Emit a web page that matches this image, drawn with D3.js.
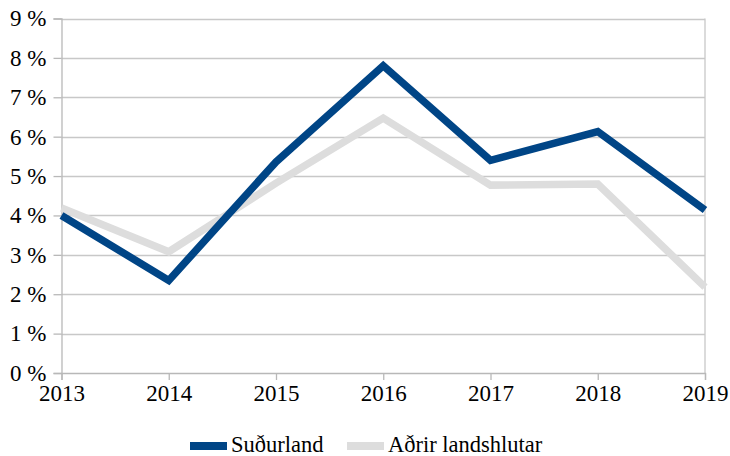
<!DOCTYPE html>
<html>
<head>
<meta charset="utf-8">
<script src="https://cdn.jsdelivr.net/npm/d3@7"></script>
<style>
  body { margin: 0; background: #fff; }
  svg text { font-family: "Liberation Serif", Tinos, "Times New Roman", "DejaVu Serif", serif; fill: #000; }
</style>
</head>
<body>
<div id="chart"></div>
<script>
// Data
const years = [2013, 2014, 2015, 2016, 2017, 2018, 2019];
const sudurland = [4.0, 2.35, 5.36, 7.8, 5.4, 6.13, 4.14];
const adrir = [4.19, 3.08, 4.82, 6.47, 4.77, 4.8, 2.18];
const yTicks = [0, 1, 2, 3, 4, 5, 6, 7, 8, 9];
const seriesNames = ["Suðurland", "Aðrir landshlutar"];
const seriesColors = ["#004586", "#dddddd"];

const serif = "'Liberation Serif', Tinos, 'Times New Roman', 'DejaVu Serif', serif";
const width = 730, height = 456;
const svg = d3.select("#chart").append("svg")
    .attr("width", width)
    .attr("height", height)
    .attr("font-family", serif);

// Scales
const xScale = d3.scaleLinear().domain([2013, 2019]).range([61.5, 705]);
const yScale = d3.scaleLinear().domain([0, 9]).range([373, 18.5]);

// Gridlines
svg.append("g")
    .selectAll("line")
    .data(yTicks.filter(d => d > 0))
    .join("line")
    .attr("x1", xScale(2013))
    .attr("x2", xScale(2019))
    .attr("y1", d => Math.round(yScale(d)) + 0.5)
    .attr("y2", d => Math.round(yScale(d)) + 0.5)
    .attr("stroke", "#c8c8c8")
    .attr("stroke-width", 1.3);

// Right border
svg.append("line")
    .attr("x1", xScale(2019)).attr("x2", xScale(2019))
    .attr("y1", yScale(9)).attr("y2", yScale(0))
    .attr("stroke", "#c8c8c8")
    .attr("stroke-width", 1.3);

// Y axis
const yAxis = svg.append("g")
    .attr("transform", `translate(${xScale(2013)},0)`)
    .call(d3.axisLeft(yScale).tickValues(yTicks).tickFormat(d => d + " %").tickSize(8).tickPadding(7));

// X axis
const xAxis = svg.append("g")
    .attr("transform", `translate(0,${yScale(0)})`)
    .call(d3.axisBottom(xScale).tickValues(years).tickFormat(d3.format("d")).tickSize(7).tickPadding(4));

[yAxis, xAxis].forEach(ax => {
    ax.attr("font-family", serif).attr("font-size", 23);
    ax.select(".domain").attr("stroke", "#b8b8b8").attr("stroke-width", 1.3);
    ax.selectAll(".tick line").attr("stroke", "#b8b8b8").attr("stroke-width", 1.3);
    ax.selectAll(".tick text")
        .style("font-family", serif)
        .style("font-size", "23px")
        .attr("fill", "#000");
});
xAxis.selectAll(".tick text").attr("dy", "0.72em");

// Lines
const line = d3.line()
    .x((d, i) => xScale(years[i]))
    .y(d => yScale(d));

[adrir, sudurland].forEach((series, k) => {
    svg.append("path")
        .datum(series)
        .attr("fill", "none")
        .attr("stroke", k === 0 ? seriesColors[1] : seriesColors[0])
        .attr("stroke-width", 7.5)
        .attr("stroke-linejoin", "miter")
        .attr("d", line);
});

// Legend
const legend = svg.append("g");
const legendItems = [
    { name: seriesNames[0], color: seriesColors[0], x: 190 },
    { name: seriesNames[1], color: seriesColors[1], x: 347 }
];
legendItems.forEach(item => {
    legend.append("rect")
        .attr("x", item.x)
        .attr("y", 442)
        .attr("width", 37)
        .attr("height", 8)
        .attr("fill", item.color);
    legend.append("text")
        .attr("x", item.x + 41)
        .attr("y", 452)
        .style("font-family", serif)
        .style("font-size", "22.5px")
        .text(item.name);
});
</script>
</body>
</html>
